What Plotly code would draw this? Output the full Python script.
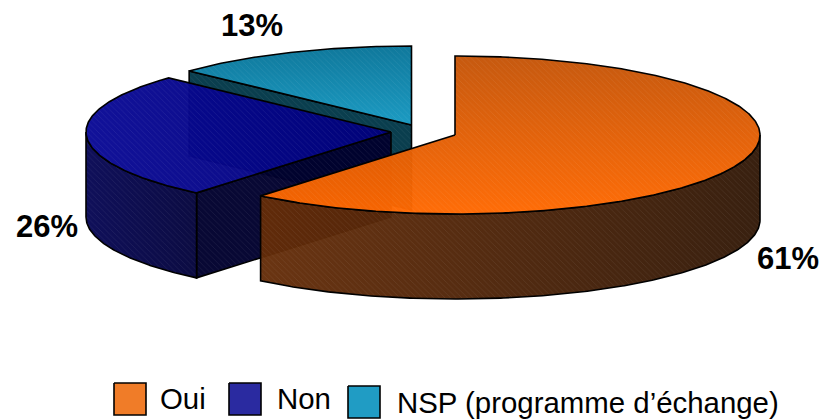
import math
import plotly.graph_objects as go

categories = ["Oui", "Non", "NSP (programme d’échange)"]
values = [61, 26, 13]

W, H = 823, 419
RX, RY, DEPTH = 305, 79, 85
APEX = {"Oui": (455, 135), "Non": (391, 132), "NSP (programme d’échange)": (411.5, 125)}
TOP = {
    "Oui": ("vertical", [[0, "rgba(196,84,8,0.97)"], [1, "rgba(255,104,0,0.97)"]], 56, 214),
    "Non": ("horizontal", [[0, "rgba(10,10,150,0.97)"], [1, "rgba(0,0,122,0.97)"]], 86, 391),
    "NSP (programme d’échange)": ("vertical", [[0, "rgba(15,120,155,1)"], [1, "rgba(28,155,195,1)"]], 46, 125),
}
RIM = {
    "Oui": ("horizontal", [[0, "rgba(100,44,8,0.96)"], [1, "rgba(50,25,8,0.97)"]], 260, 760),
    "Non": ("horizontal", [[0, "rgba(8,8,85,0.97)"], [1, "rgba(4,4,60,0.97)"]], 86, 197),
}
CUT = {"Non": "rgba(0,0,45,0.97)", "NSP (programme d’échange)": "rgba(10,62,78,1)"}
LEGEND_COLORS = {"Oui": "#F07C28", "Non": "#2A2AA0", "NSP (programme d’échange)": "#209CC4"}
LABEL_POS = {"Oui": (788, 258), "Non": (47, 226), "NSP (programme d’échange)": (252, 25)}
SWATCH = {"Oui": (114, 383), "Non": (229, 383), "NSP (programme d’échange)": (348, 386)}
LEGEND_TEXT = {"Oui": (158, 398), "Non": (275, 398), "NSP (programme d’échange)": (395, 402)}

fig = go.Figure()


def pt(cat, deg, dz=0):
    ax, ay = APEX[cat]
    a = math.radians(deg)
    return ax + RX * math.sin(a), ay - RY * math.cos(a) + dz


def arc(cat, a0, a1, dz=0):
    n = max(int(abs(a1 - a0)) * 2, 2)
    return [pt(cat, a0 + (a1 - a0) * i / n, dz) for i in range(n + 1)]


def hatch(size=4, sol=0.2, alpha=0.16):
    return dict(shape="\\", size=size, solidity=sol,
                fgcolor=f"rgba(255,255,255,{alpha})", bgcolor="rgba(0,0,0,0)")


def face(poly, grad=None, color=None, lw=1.6):
    xs = [p[0] for p in poly] + [poly[0][0]]
    ys = [p[1] for p in poly] + [poly[0][1]]
    base = dict(x=xs, y=ys, mode="lines", fill="toself", showlegend=False, hoverinfo="skip")
    if grad:
        fig.add_trace(go.Scatter(**base, line=dict(width=0),
                                 fillgradient=dict(type=grad[0], colorscale=grad[1], start=grad[2], stop=grad[3])))
    else:
        fig.add_trace(go.Scatter(**base, line=dict(width=0), fillcolor=color))
    fig.add_trace(go.Scatter(**base, line=dict(color="black", width=lw),
                             fillcolor="rgba(0,0,0,0)", fillpattern=hatch()))


# slice angles, clockwise from north
angles = {}
start = 0.0
for c, v in zip(categories, values):
    angles[c] = (start, start + v / sum(values) * 360)
    start = angles[c][1]

# draw back to front: teal, blue, orange
for c in reversed(categories):
    a0, a1 = angles[c]
    ax, ay = APEX[c]
    if c in CUT:
        p = pt(c, a0)
        face([(ax, ay), p, (p[0], p[1] + DEPTH), (ax, ay + DEPTH)], color=CUT[c])
    if c in RIM:
        lo, hi = max(a0, 90), min(a1, 270)
        face(arc(c, lo, hi) + arc(c, hi, lo, DEPTH), grad=RIM[c])
    face([(ax, ay)] + arc(c, a0, a1), grad=TOP[c])

annotations = []
for c, v in zip(categories, values):
    x, y = LABEL_POS[c]
    annotations.append(dict(x=x, y=y, xref="x", yref="y", text=f"<b>{v}%</b>", showarrow=False,
                            font=dict(family="Liberation Sans", size=31, color="black")))
    sx, sy = SWATCH[c]
    fig.add_trace(go.Scatter(x=[sx, sx + 32, sx + 32, sx, sx], y=[sy, sy, sy + 32, sy + 32, sy],
                             mode="lines", fill="toself", showlegend=False, hoverinfo="skip",
                             fillcolor=LEGEND_COLORS[c], line=dict(color="black", width=1.6)))
    tx, ty = LEGEND_TEXT[c]
    annotations.append(dict(x=tx, y=ty, xref="x", yref="y", text=c, showarrow=False, xanchor="left",
                            font=dict(family="Liberation Sans", size=29.4, color="black")))

fig.update_layout(
    width=W, height=H, margin=dict(l=0, r=0, t=0, b=0),
    paper_bgcolor="white", plot_bgcolor="white", showlegend=False,
    xaxis=dict(range=[0, W], visible=False, fixedrange=True),
    yaxis=dict(range=[H, 0], visible=False, fixedrange=True),
    annotations=annotations,
)
fig.write_html("out.html", config={"displayModeBar": False},
               post_script="document.body.style.margin='0';document.body.style.overflow='hidden';")
